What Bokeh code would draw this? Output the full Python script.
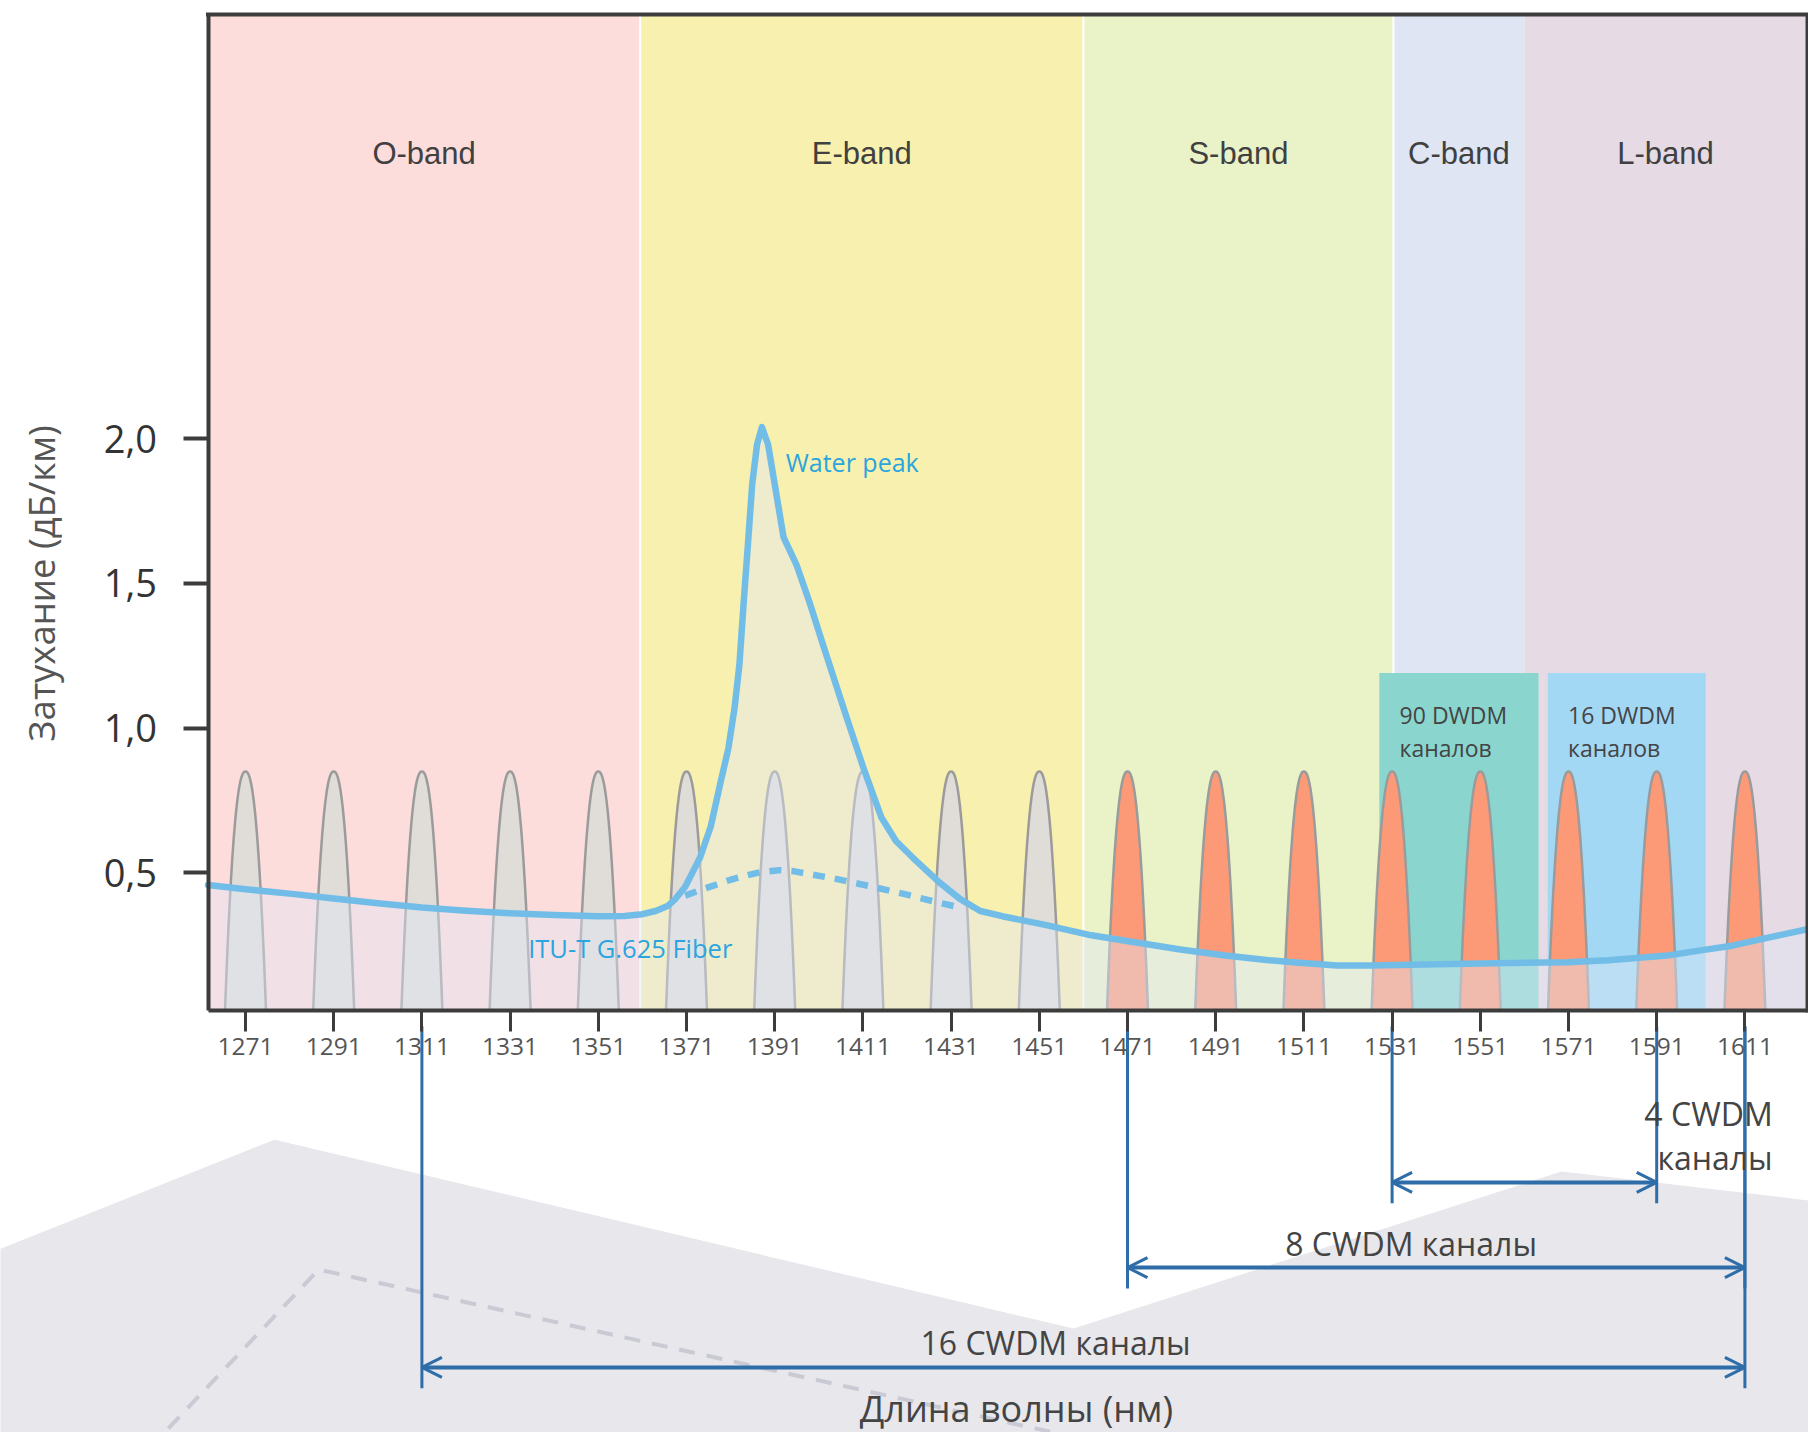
import numpy as np
from bokeh.plotting import figure
from bokeh.models import Range1d, LinearAxis, FixedTicker, Arrow, OpenHead
from bokeh.core.properties import value
from bokeh.embed import file_html
from bokeh.resources import INLINE

# ---------------- data ----------------
CWDM_NM = [1271, 1291, 1311, 1331, 1351, 1371, 1391, 1411, 1431,
           1451, 1471, 1491, 1511, 1531, 1551, 1571, 1591, 1611]
CWDM_PEAK = 0.85

BAND_NAMES = ["O-band", "E-band", "S-band", "C-band", "L-band"]
BAND_EDGES = [1260.0, 1360.5, 1461.0, 1531.3, 1561.0, 1625.0]

DWDM_COUNTS = [90, 16]
DWDM_LEFT = [1528.1, 1566.3]
DWDM_RIGHT = [1564.2, 1602.1]
DWDM_TOP = 1.19

CURVE_NM = [1262.5, 1271, 1281, 1291, 1301, 1311, 1321, 1331, 1341, 1351,
            1357, 1361, 1364, 1366.7, 1368.5, 1370.7, 1374, 1376.5, 1378.8,
            1380.5, 1381.9, 1383, 1383.9, 1385, 1385.9, 1387, 1388.1, 1389.5,
            1391, 1393, 1396, 1399, 1402.1, 1407.2, 1411.2, 1415.2, 1418.5,
            1422.4, 1428.4, 1433, 1437.6, 1442.6, 1452.6, 1462.8, 1473, 1483,
            1493.2, 1503, 1509.3, 1518.5, 1526, 1548, 1570.7, 1580, 1593.4,
            1601, 1608.4, 1616, 1625.2]
CURVE_ATT = [0.458, 0.443, 0.428, 0.411, 0.395, 0.380, 0.369, 0.360, 0.354, 0.350,
             0.351, 0.357, 0.368, 0.385, 0.41, 0.452, 0.55, 0.66, 0.818,
             0.93, 1.07, 1.22, 1.42, 1.65, 1.843, 1.98, 2.04, 1.98,
             1.843, 1.66, 1.562, 1.43, 1.281, 1.042, 0.859, 0.691, 0.61,
             0.551, 0.466, 0.41, 0.368, 0.350, 0.319, 0.284, 0.259, 0.235,
             0.214, 0.198, 0.190, 0.180, 0.180, 0.186, 0.191, 0.198, 0.214,
             0.232, 0.249, 0.275, 0.305]

DRY_NM = [1370.7, 1374, 1377.8, 1381, 1384.9, 1388, 1392, 1395.5, 1399.1,
          1405.2, 1412.2, 1420.3, 1428.4, 1433.5]
DRY_ATT = [0.421, 0.44, 0.459, 0.476, 0.492, 0.503, 0.509, 0.505, 0.495,
           0.478, 0.455, 0.427, 0.396, 0.379]

Y_TICKS = [0.5, 1.0, 1.5, 2.0]
Y_TICK_LABELS = ["0,5", "1,0", "1,5", "2,0"]

SPAN_LEFT = [1531, 1471, 1311]
SPAN_RIGHT = [1591, 1611, 1611]
SPAN_COUNT = [4, 8, 16]

# ---------------- layout / style ----------------
W, H = 1808, 1432
X_START, PX_PER_NM = 1215.444, 4.41
Y_ZERO_PX, PX_PER_UNIT = 1017.0, 289.4
X_LEFT, X_RIGHT = 1262.5, 1625.2
Y_BASE, Y_TOP = 0.024, 3.466

BAND_COLORS = ["#fddcdc", "#f8f0ae", "#eaf3c8", "#dfe5f3", "#e6dae4"]
DWDM_COLORS = ["#8ad6cf", "#a3d8f5"]
FRAME = "#3c3c3c"
CURVE_COLOR = "#72bde8"
LABEL_BLUE = "#2aa5df"
DIM_BLUE = "#2e6da8"

SPAN_ARROW_Y = [-0.570, -0.864, -1.209]

# decorative background (lower grey "mountains")
DECO_X = [1214.0, 1277.6, 1458.8, 1569.4, 1627.0, 1627.0, 1214.0]
DECO_Y = [-0.808, -0.422, -1.075, -0.532, -0.635, -1.48, -1.48]
DECO_DASH_X = [1253.5, 1287.6, 1456.3]
DECO_DASH_Y = [-1.42, -0.871, -1.441]

p = figure(width=W, height=H,
           x_range=Range1d(X_START, X_START + W / PX_PER_NM),
           y_range=Range1d((Y_ZERO_PX - H) / PX_PER_UNIT, Y_ZERO_PX / PX_PER_UNIT),
           x_axis_location=None, y_axis_location=None,
           output_backend="svg", toolbar_location=None, min_border=0)
p.min_border_left = p.min_border_right = p.min_border_top = p.min_border_bottom = 0
p.outline_line_color = None
p.grid.visible = False
p.background_fill_color = "white"
p.border_fill_color = "white"

# decoration
p.patch(DECO_X, DECO_Y, fill_color="#e7e7ec", line_color=None)
p.line(DECO_DASH_X, DECO_DASH_Y, line_color="#c9cad4", line_width=4, line_dash="16 12")

# bands
b_left = [max(e, X_LEFT) for e in BAND_EDGES[:-1]]
b_right = [min(e, X_RIGHT) for e in BAND_EDGES[1:]]
p.quad(left=b_left, right=b_right, bottom=Y_BASE, top=Y_TOP,
       fill_color=BAND_COLORS, line_color=None)
for e in BAND_EDGES[1:4]:
    p.line([e, e], [Y_BASE, Y_TOP], line_color="white", line_width=2)
p.text(x=[(l + r) / 2 for l, r in zip(b_left, b_right)], y=[2.984] * 5, text=BAND_NAMES,
       text_font=value("Liberation Sans"), text_font_size="31px", text_color="#404040",
       text_align="center", text_baseline="middle")

# DWDM boxes
p.quad(left=DWDM_LEFT, right=DWDM_RIGHT, bottom=Y_BASE, top=DWDM_TOP,
       fill_color=DWDM_COLORS, line_color=None)
p.text(x=[l + 4.6 for l in DWDM_LEFT], y=[1.044] * 2, text=[f"{c} DWDM" for c in DWDM_COUNTS],
       text_font=value("Open Sans"), text_font_size="23px", text_color="#444444",
       text_align="left", text_baseline="middle")
p.text(x=[l + 4.6 for l in DWDM_LEFT], y=[0.932] * 2, text=["каналов"] * 2,
       text_font=value("Open Sans"), text_font_size="23px", text_color="#444444",
       text_align="left", text_baseline="middle")

# CWDM channel peaks
HALF_W = 4.65
r = np.linspace(-1, 1, 81)
shape = 1 - np.abs(r) ** 2.3
pxs = [list(c + HALF_W * r) for c in CWDM_NM]
pys = [list(Y_BASE + (CWDM_PEAK - Y_BASE) * shape) for _ in CWDM_NM]
pcol = ["#e0ddd8" if c < BAND_EDGES[2] else "#fc9a78" for c in CWDM_NM]
p.patches(pxs, pys, fill_color=pcol, line_color="#9b9b9b", line_width=2.5)

# tint under attenuation curve
p.varea(x=CURVE_NM, y1=[Y_BASE] * len(CURVE_NM), y2=CURVE_ATT,
        fill_color="#e1e8f5", fill_alpha=0.42)

# curves
p.line(DRY_NM, DRY_ATT, line_color=CURVE_COLOR, line_width=6.5, line_dash="12 10")
p.line(CURVE_NM, CURVE_ATT, line_color=CURVE_COLOR, line_width=6.5,
       line_join="round", line_cap="round")

p.text(x=[1393.5], y=[1.92], text=["Water peak"], text_font=value("Open Sans"),
       text_font_size="25px", text_color=LABEL_BLUE, text_baseline="middle")
p.text(x=[1335.1], y=[0.239], text=["ITU-T G.625 Fiber"], text_font=value("Open Sans"),
       text_font_size="25.5px", text_color=LABEL_BLUE, text_baseline="middle")

# frame (top / right); left and bottom are the axes
p.line([X_LEFT, X_RIGHT, X_RIGHT], [Y_TOP, Y_TOP, Y_BASE], line_color=FRAME,
       line_width=4, line_join="miter", line_cap="square")

xax = LinearAxis(fixed_location=Y_BASE, bounds=(X_LEFT, X_RIGHT),
                 ticker=FixedTicker(ticks=CWDM_NM, minor_ticks=[]))
xax.axis_line_color = FRAME
xax.axis_line_width = 4
xax.major_tick_in = 0
xax.major_tick_out = 21
xax.major_tick_line_width = 3
xax.major_tick_line_color = FRAME
xax.minor_tick_line_color = None
xax.major_label_text_font = "Open Sans"
xax.major_label_text_font_size = "24.5px"
xax.major_label_text_color = "#555555"
xax.major_label_standoff = 6
p.add_layout(xax, "below")

yax = LinearAxis(fixed_location=X_LEFT, bounds=(Y_BASE, Y_TOP),
                 ticker=FixedTicker(ticks=Y_TICKS, minor_ticks=[]))
yax.major_label_overrides = {t: s for t, s in zip(Y_TICKS, Y_TICK_LABELS)}
yax.axis_line_color = FRAME
yax.axis_line_width = 4
yax.major_tick_in = 0
yax.major_tick_out = 25
yax.major_tick_line_width = 4
yax.major_tick_line_color = FRAME
yax.minor_tick_line_color = None
yax.major_label_text_font = "Open Sans"
yax.major_label_text_font_size = "38px"
yax.major_label_text_color = "#333333"
yax.major_label_standoff = 26
yax.major_label_orientation = "horizontal"
p.add_layout(yax, "left")

p.text(x=[1224.6], y=[1.5], text=["Затухание (дБ/км)"], angle=np.pi / 2,
       text_font=value("Open Sans"), text_font_size="36.5px", text_color="#555555",
       text_align="center", text_baseline="middle")

# CWDM span dimension lines
vx0, vy0, vy1 = [], [], []
for lft, rgt, ay in zip(SPAN_LEFT, SPAN_RIGHT, SPAN_ARROW_Y):
    for xx in (lft, rgt):
        vx0.append(xx)
        vy0.append(-0.03)
        vy1.append(ay - 0.072)
p.segment(x0=vx0, y0=vy0, x1=vx0, y1=vy1, line_color=DIM_BLUE, line_width=3)
for lft, rgt, ay in zip(SPAN_LEFT, SPAN_RIGHT, SPAN_ARROW_Y):
    p.add_layout(Arrow(x_start=lft, y_start=ay, x_end=rgt, y_end=ay,
                       line_color=DIM_BLUE, line_width=4,
                       start=OpenHead(size=20, line_color=DIM_BLUE, line_width=3),
                       end=OpenHead(size=20, line_color=DIM_BLUE, line_width=3)))

dim_font = dict(text_font=value("Open Sans"), text_font_size="32px", text_color="#444444",
                text_baseline="middle")
p.text(x=[1617.3, 1617.3], y=[-0.332, -0.483],
       text=[f"{SPAN_COUNT[0]} CWDM", "каналы"], text_align="right", **dim_font)
p.text(x=[1535.3, 1454.7], y=[-0.781, -1.123],
       text=[f"{SPAN_COUNT[1]} CWDM каналы", f"{SPAN_COUNT[2]} CWDM каналы"],
       text_align="center", **dim_font)

p.text(x=[1445.8], y=[-1.352], text=["Длина волны (нм)"], text_font=value("Open Sans"),
       text_font_size="36px", text_color="#444444", text_align="center",
       text_baseline="middle")

open("out.html", "w").write(file_html(p, INLINE))
